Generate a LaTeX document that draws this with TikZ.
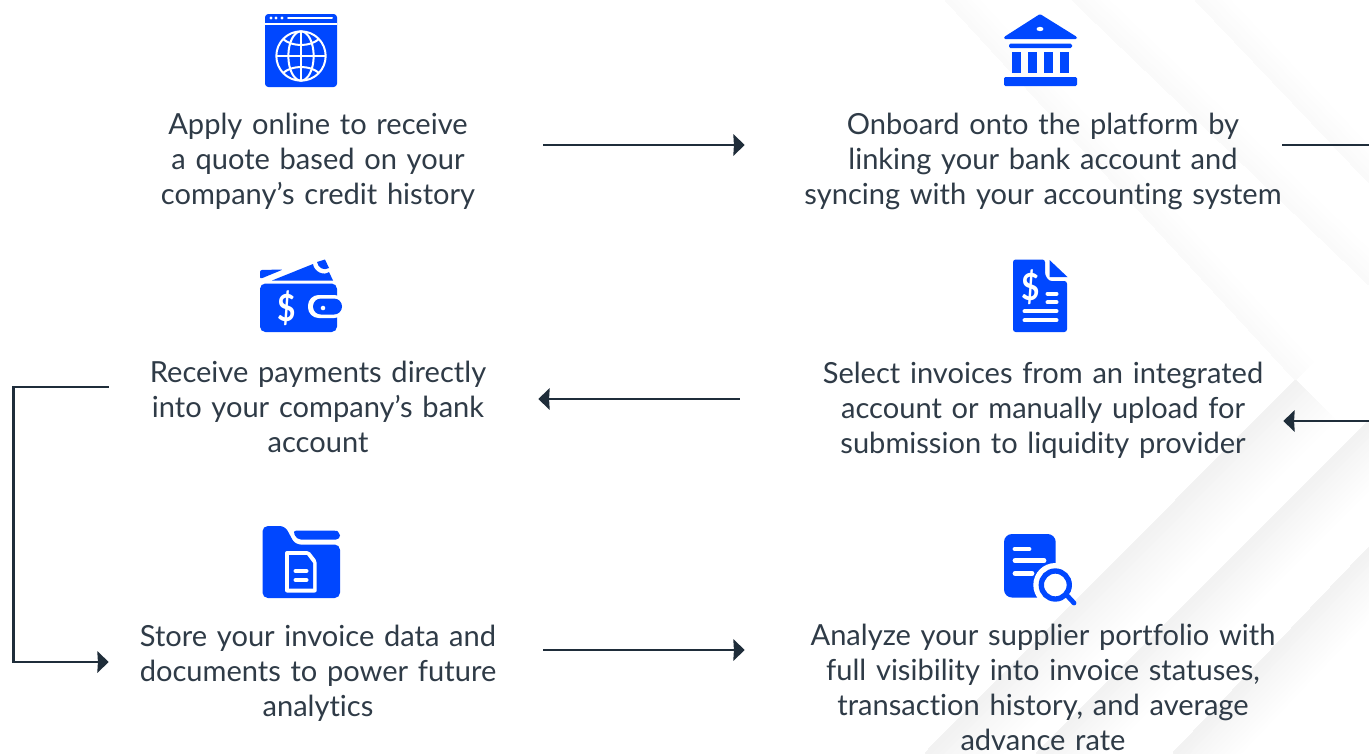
\documentclass[tikz,border=0pt]{standalone}
\usepackage{fontspec}
\setmainfont{Lato}[Ligatures=NoCommon]
\usetikzlibrary{calc}
\usetikzlibrary{arrows.meta}
\definecolor{iconblue}{HTML}{0047FF}
\definecolor{inkdark}{HTML}{1F2D3A}
\definecolor{bodytext}{HTML}{2F3B47}
% one soft edge of a background chevron: start, end, fade vector, strength
\newcommand{\fadeedge}[4]{
  \foreach \i in {12,11,...,1} {
    \pgfmathsetmacro{\fr}{\i/12}
    \pgfmathsetmacro{\pct}{#4*(1-(\i-1)/12)}
    \fill[black!\pct!white] (#1) -- (#2) -- ($(#2)+\fr*(#3)$) -- ($(#1)+\fr*(#3)$) -- cycle;
  }
}
\begin{document}
\begin{tikzpicture}[x=0.75pt,y=-0.75pt,
      step text/.style={text width=360pt,align=center,inner sep=0pt,text=bodytext,
        font=\fontsize{21.8}{26.25}\selectfont},
      arr/.style={-{Stealth[length=8.5pt,width=16pt,inset=0.4pt]},line width=2pt,draw=inkdark},
      ico/.style={fill=iconblue,draw=none},
      cut/.style={draw=white,line cap=round,line width=3pt},
      thin cut/.style={draw=white,line width=1.5pt},
      dollar/.style={text=white,inner sep=0pt,xscale=.85,font=\fontsize{28}{28}\selectfont\bfseries}]
    \clip (0,0) rectangle (1369,753);
    % background
    \fill[white] (0,0) rectangle (1369,753);
    \coordinate (ctop) at (945,0);
    \coordinate (ctip) at (1295,380);
    \coordinate (cbot) at (925,753);
    \fadeedge{ctop}{ctip}{18,-18}{2}
    \fadeedge{ctip}{cbot}{40,40}{5}
    \coordinate (dtop) at (1072,0);
    \coordinate (dtipa) at (1369,285);
    \coordinate (dtipb) at (1369,420);
    \coordinate (dbot) at (1036,753);
    \fadeedge{dtop}{dtipa}{18,-18}{2}
    \fadeedge{dtipb}{dbot}{35,35}{5}
    \coordinate (etop) at (1195,0);
    \coordinate (etipa) at (1369,183);
    \coordinate (etipb) at (1369,547);
    \coordinate (ebot) at (1173,753);
    \fadeedge{etop}{etipa}{18,-18}{2}
    \fadeedge{etipb}{ebot}{35,35}{5}
    % steps
    \node[step text] (apply) at (318,161) {Apply online to receive\\a quote based on your\\company’s credit history};
    \node[step text] (onboard) at (1043,161) {Onboard onto the platform by\\linking your bank account and\\syncing with your accounting system};
    \node[step text] (receive) at (318,407) {Receive payments directly\\into your company’s bank\\account};
    \node[step text] (select) at (1043,410) {Select invoices from an integrated\\account or manually upload for\\submission to liquidity provider};
    \node[step text] (store) at (318,673) {Store your invoice data and\\documents to power future\\analytics};
    \node[step text] (analyze) at (1043,687) {Analyze your supplier portfolio with\\full visibility into invoice statuses,\\transaction history, and average\\advance rate};
    % connectors
    \draw[arr] ($(apply.east)+(-15,-16)$) -- ($(onboard.west)+(-58,-16)$);
    \draw[arr] ($(onboard.east)+(-1,-16)$) -- ++(150,0) |- ($(select.east)+(0,11)$);
    \draw[arr] ($(select.west)+(-63,-11)$) -- ($(receive.east)+(-20,-8)$);
    \draw[arr] ($(receive.west)+(31,-20)$) -- ($(receive.west)+(-64,-20)$) |- ($(store.west)+(31,-11)$);
    \draw[arr] ($(store.east)+(-15,-23)$) -- ($(analyze.west)+(-58,-37)$);
    % globe
    \fill[ico,rounded corners=2.5pt] (265,14) rectangle (337,87);
    \draw[thin cut] (265,24) -- (337,24);
    \foreach \dotx in {271,276,282} \fill[white] (\dotx,18) circle (1.3pt);
    \draw[white,line width=1.5pt,line cap=round] (288,18) -- (332,18);
    \begin{scope}[thin cut]
      \draw (301,56) circle (18.5pt);
      \draw (301,56) ellipse (9.5pt and 18.5pt);
      \draw (301,31) -- (301,81);
      \draw (276,56) -- (326,56);
      \draw (283,39) .. controls (292,47) and (310,47) .. (319,39);
      \draw (283,73) .. controls (292,65) and (310,65) .. (319,73);
    \end{scope}
    % bank
    \fill[ico,rounded corners=1pt] (1040,14) -- (1077,37) -- (1077,39) -- (1004,39) -- (1004,37) -- cycle;
    \fill[white] (1040,29) ellipse (2.6pt and 1.6pt);
    \fill[ico,rounded corners=1pt] (1009,43.7) rectangle (1072,48);
    \foreach \colx in {1012,1028,1044,1060} \fill[ico] (\colx,52) rectangle ++(9,21);
    \fill[ico,rounded corners=1pt] (1004,77) rectangle (1077,86);
    % wallet
    \fill[ico,rounded corners=4pt] (260,283.5) -- (337,283.5) -- (337,332) -- (260,332) -- cycle;
    \fill[ico,rounded corners=1.5pt] (260,279) -- (260,270) -- (283,269.5) -- cycle;
    \fill[ico] (272,280.5) -- (313,264) .. controls (314,272) and (324,276) .. (329,272) -- (333,280.5) -- cycle;
    \fill[ico] (317,262) -- (325,259.5) -- (329,268) .. controls (324,271) and (318,268) .. (317,262) -- cycle;
    \fill[white,rounded corners=8pt] (308,295) rectangle (345,318);
    \fill[ico,rounded corners=6pt] (313,298.5) rectangle (342,314.5);
    \fill[white] (323,308) circle (1.7pt);
    \node[dollar] (walletsign) at (287,308) {\$};
    % invoice
    \fill[ico,rounded corners=2pt] (1013,259.5) -- (1045,259.5) -- (1045,275) -- (1049,281) -- (1067,281) -- (1067,332) -- (1013,332) -- cycle;
    \fill[ico] (1049.5,260) -- (1067.5,277) -- (1049.5,277) -- cycle;
    \node[dollar] (invoicesign) at (1031,287) {\$};
    \draw[cut] (1047.5,293.7) -- (1056.5,293.7);
    \draw[cut] (1047.5,302.3) -- (1056.5,302.3);
    \draw[cut] (1024.5,311.3) -- (1056.5,311.3);
    \draw[cut] (1024.5,320.3) -- (1056.5,320.3);
    % folder
    \fill[ico,rounded corners=4pt] (262.5,526) -- (285,526) -- (295,544.5) -- (340,544.5) -- (340,598) -- (262.5,598) -- cycle;
    \fill[ico,rounded corners=3pt] (292.5,530.5) -- (333,530.5) .. controls (338,531) and (340,535) .. (340,539.5) -- (297,539.5) -- cycle;
    \fill[white,rounded corners=1.5pt] (285,551) -- (309,551) -- (316.7,561) -- (316.7,592.5) -- (285,592.5) -- cycle;
    \fill[ico] (289,555) -- (307,555) -- (313,563) -- (313,588.5) -- (289,588.5) -- cycle;
    \draw[cut] (295.5,571) -- (306.5,571);
    \draw[cut] (295.5,580) -- (306.5,580);
    % analyze
    \fill[ico,rounded corners=6pt] (1004,534) rectangle (1055.7,597.5);
    \draw[white,line cap=round,line width=3.6pt] (1015,549) -- (1029,549);
    \draw[white,line cap=round,line width=3.6pt] (1015,560.7) -- (1044,560.7);
    \draw[white,line cap=round,line width=3.6pt] (1015,573.3) -- (1032,573.3);
    \fill[white] (1055.3,585) circle (16.5pt);
    \draw[iconblue,line width=4pt] (1055.3,585) circle (10.5pt);
    \draw[iconblue,line width=3.6pt,line cap=round] (1067.5,596) -- (1074,603);
\end{tikzpicture}
\end{document}
